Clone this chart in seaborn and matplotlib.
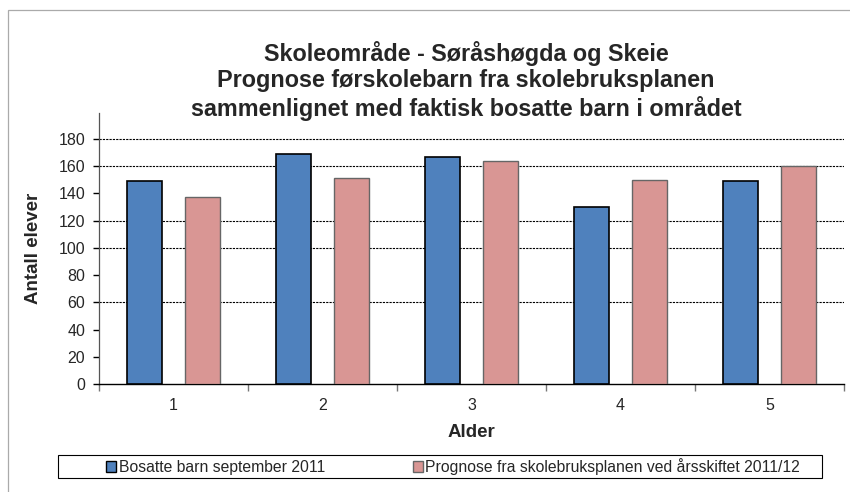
import matplotlib
matplotlib.use("Agg")
import matplotlib.pyplot as plt
import matplotlib.patches as mpatches
import numpy as np
import pandas as pd
import seaborn as sns
from matplotlib.ticker import FixedLocator

# Values
ages = ["1", "2", "3", "4", "5"]
bosatte = [149, 169, 167, 130, 149]
prognose = [137, 151, 164, 150, 160]
series_names = ["Bosatte barn september 2011",
                "Prognose fra skolebruksplanen ved årsskiftet 2011/12"]
y_ticks = [0, 20, 40, 60, 80, 100, 120, 140, 160, 180]
grid_values = [60, 100, 120, 160, 180]

title = ("Skoleområde - Søråshøgda og Skeie\n"
         "Prognose førskolebarn fra skolebruksplanen\n"
         "sammenlignet med faktisk bosatte barn i området")

df = pd.DataFrame({
    "Alder": ages * 2,
    "Antall": bosatte + prognose,
    "Serie": [series_names[0]] * len(ages) + [series_names[1]] * len(ages),
})

sns.set_theme(style="white")
plt.rcParams["font.family"] = ["Liberation Sans", "DejaVu Sans"]

W, H = 850, 492
fig = plt.figure(figsize=(W / 100, H / 100), dpi=100)
ax = fig.add_axes([99 / W, 1 - 384 / H, (844 - 99) / W, (384 - 113) / H])

colors = ["#4F81BD", "#D99694"]
sns.barplot(data=df, x="Alder", y="Antall", hue="Serie", palette=colors,
            saturation=1, width=0.766, gap=0.386, ax=ax, legend=False, zorder=3)

# edge colours like the Excel chart
n = len(ages)
for i, bar in enumerate(ax.patches):
    if i < n:
        bar.set_edgecolor("black")
        bar.set_linewidth(1.2)
    else:
        bar.set_edgecolor("#666666")
        bar.set_linewidth(1.0)

for g in grid_values:
    ax.axhline(g, color="black", linestyle=(0, (2, 1)), linewidth=0.8, zorder=1)

ax.set_xlim(-0.5, n - 0.5)
ax.set_ylim(0, 199)
ax.set_yticks(y_ticks)
ax.tick_params(axis="y", which="major", length=4, width=1, color="black",
               direction="out", labelsize=11.5, left=True, pad=6)
ax.tick_params(axis="x", which="major", length=0, labelsize=11.5, pad=10)
ax.xaxis.set_minor_locator(FixedLocator(np.arange(-0.5, n, 1.0)))
ax.tick_params(axis="x", which="minor", length=5, width=1, color="#777777",
               direction="out", bottom=True)

for side in ["top", "right"]:
    ax.spines[side].set_visible(False)
ax.spines["left"].set_color("#555555")
ax.spines["bottom"].set_color("black")
ax.spines["left"].set_linewidth(0.9)
ax.spines["bottom"].set_linewidth(1.0)

ax.set_xlabel("Alder", fontsize=13.5, fontweight="bold", labelpad=8)
ax.set_ylabel("Antall elever", fontsize=13.5, fontweight="bold", labelpad=12)

fig.text(466 / W, 1 - 81 / H, title, ha="center", va="center",
         fontsize=16.8, fontweight="bold", linespacing=1.17)

# legend box
fig.add_artist(mpatches.Rectangle((58 / W, 1 - 478 / H), (822 - 58) / W, 23 / H,
                                  transform=fig.transFigure, facecolor="white",
                                  edgecolor="black", linewidth=0.8))
handles = [mpatches.Patch(facecolor=colors[0], edgecolor="black"),
           mpatches.Patch(facecolor=colors[1], edgecolor="#666666")]
fig.legend(handles, series_names, loc="center", bbox_to_anchor=(453 / W, 1 - 466.5 / H),
           ncol=2, frameon=False, fontsize=11.3, handlelength=0.65, handleheight=0.65,
           handletextpad=0.15, columnspacing=5.6, borderpad=0)

# outer chart border
fig.add_artist(mpatches.Rectangle((8 / W, -0.1), 1.0, 1 - 10 / H + 0.1,
                                  transform=fig.transFigure, facecolor="none",
                                  edgecolor="#aaaaaa", linewidth=0.9))

fig.savefig("out.png", dpi=100)
